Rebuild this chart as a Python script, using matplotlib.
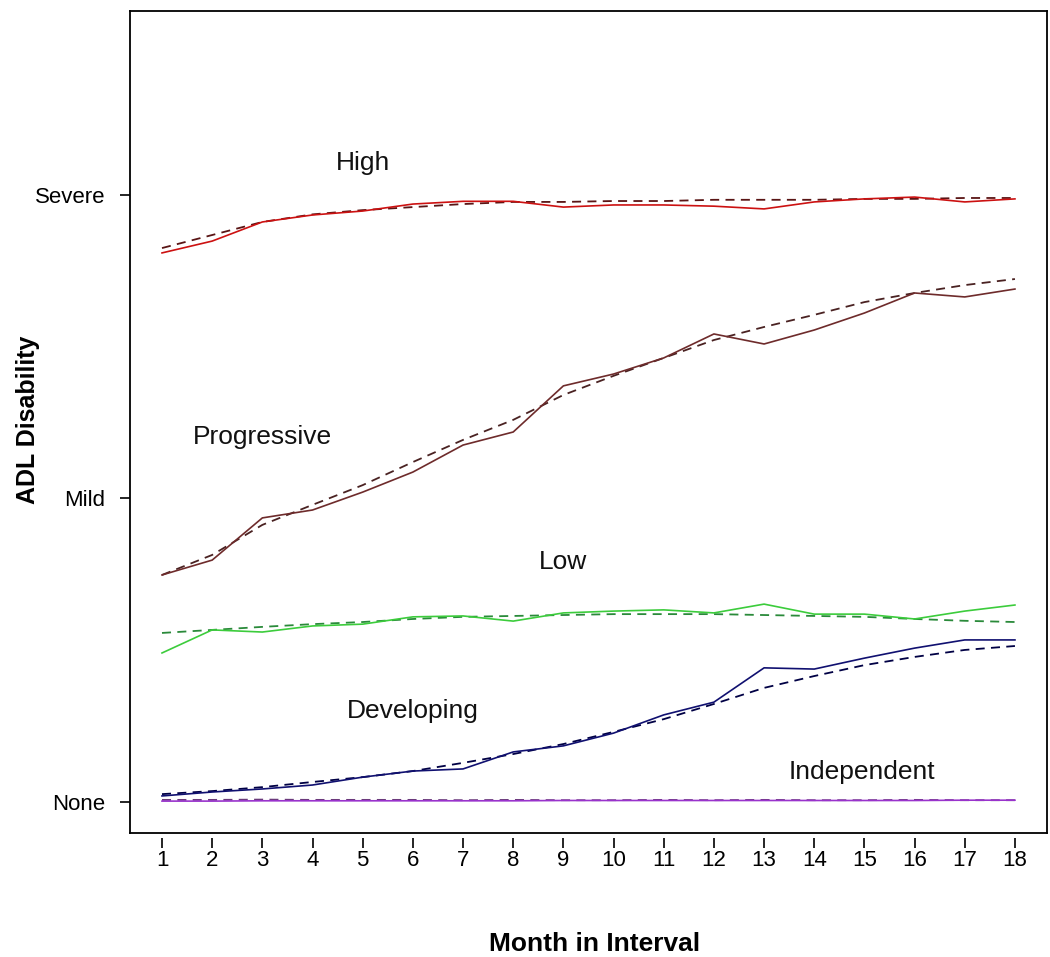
import matplotlib
matplotlib.use("Agg")
import matplotlib.pyplot as plt

plt.rcParams['font.family'] = ['Liberation Sans', 'DejaVu Sans']

months = list(range(1, 19))
level_ticks = [0, 1, 2]
level_labels = ["None", "Mild", "Severe"]

# observed (solid) and fitted (dashed) trajectories, 0=None 1=Mild 2=Severe
high_obs = [1.809, 1.848, 1.911, 1.934, 1.947, 1.970, 1.979, 1.979, 1.960,
            1.967, 1.967, 1.963, 1.954, 1.977, 1.987, 1.993, 1.977, 1.987]
high_fit = [1.825, 1.868, 1.911, 1.936, 1.950, 1.960, 1.970, 1.977, 1.977,
            1.980, 1.980, 1.984, 1.984, 1.984, 1.987, 1.987, 1.990, 1.990]

prog_obs = [0.748, 0.797, 0.936, 0.962, 1.021, 1.087, 1.176, 1.219, 1.371,
            1.410, 1.463, 1.542, 1.509, 1.555, 1.611, 1.677, 1.664, 1.690]
prog_fit = [0.748, 0.814, 0.913, 0.979, 1.044, 1.120, 1.193, 1.259, 1.341,
            1.404, 1.463, 1.522, 1.565, 1.605, 1.647, 1.677, 1.703, 1.723]

low_obs = [0.491, 0.567, 0.560, 0.580, 0.586, 0.610, 0.613, 0.596, 0.623,
           0.629, 0.633, 0.623, 0.652, 0.619, 0.619, 0.603, 0.629, 0.649]
low_fit = [0.557, 0.567, 0.577, 0.586, 0.593, 0.603, 0.610, 0.613, 0.616,
           0.619, 0.619, 0.619, 0.616, 0.613, 0.610, 0.603, 0.597, 0.593]

dev_obs = [0.020, 0.033, 0.043, 0.056, 0.082, 0.102, 0.109, 0.165, 0.185,
           0.227, 0.287, 0.329, 0.442, 0.438, 0.474, 0.507, 0.534, 0.534]
dev_fit = [0.026, 0.036, 0.049, 0.066, 0.082, 0.102, 0.129, 0.158, 0.191,
           0.231, 0.273, 0.323, 0.376, 0.415, 0.451, 0.478, 0.501, 0.514]

ind_obs = [0.003, 0.003, 0.004, 0.004, 0.004, 0.004, 0.004, 0.004, 0.005,
           0.005, 0.005, 0.005, 0.005, 0.005, 0.005, 0.005, 0.006, 0.006]
ind_fit = [0.007, 0.007, 0.008, 0.007, 0.007, 0.007, 0.006, 0.007, 0.006,
           0.006, 0.007, 0.006, 0.007, 0.006, 0.006, 0.007, 0.006, 0.006]

groups = [
    ("High", high_obs, high_fit, "#cc1111", "#5a1515", (5.0, 2.105)),
    ("Progressive", prog_obs, prog_fit, "#6e2b2b", "#4a2222", (3.0, 1.203)),
    ("Low", low_obs, low_fit, "#3ccc3c", "#2a8a3a", (9.0, 0.791)),
    ("Developing", dev_obs, dev_fit, "#101070", "#000044", (6.0, 0.300)),
    ("Independent", ind_obs, ind_fit, "#9933cc", "#6a3a7a", (14.95, 0.099)),
]

fig = plt.figure(figsize=(10.5, 9.57), dpi=100)
ax = fig.add_axes([0.1238, 0.1296, 0.8733, 0.8589])

for name, obs, fit, c_obs, c_fit, (tx, ty) in groups:
    ax.plot(months, fit, color=c_fit, linewidth=1.3, linestyle=(0, (5, 3.5)))
    ax.plot(months, obs, color=c_obs, linewidth=1.2)
    ax.text(tx, ty, name, ha='center', va='center', fontsize=19, color='#111111')

ax.set_xlim(0.362, 18.638)
ax.set_ylim(-0.102, 2.606)

for sp in ax.spines.values():
    sp.set_linewidth(1.3)

ax.set_yticks(level_ticks)
ax.set_yticklabels(level_labels)
ax.tick_params(axis='y', length=7, width=1.2, pad=11, labelsize=16)

ax.set_xticks([])
sec = ax.secondary_xaxis(-0.006)
sec.set_xticks(months)
sec.set_xticklabels([str(m) for m in months])
sec.spines['bottom'].set_visible(False)
sec.tick_params(axis='x', length=7.5, width=1.2, pad=1, labelsize=16)

fig.text(0.566, 0.0136, "Month in Interval", ha='center', va='center',
         fontsize=19, fontweight='bold')
fig.text(0.0267, 0.561, "ADL Disability", ha='center', va='center',
         rotation=90, fontsize=18, fontweight='bold')

fig.savefig("out.png", dpi=100)
